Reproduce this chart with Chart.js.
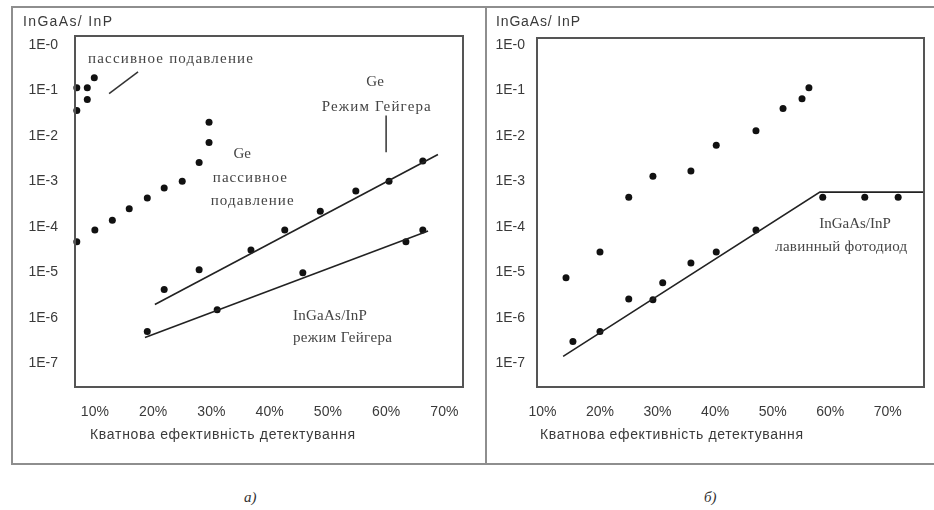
<!DOCTYPE html>
<html>
<head>
<meta charset="utf-8">
<script src="https://cdn.jsdelivr.net/npm/chart.js@4"></script>
<style>
  body { margin: 0; background: #fff; width: 934px; height: 510px; position: relative; overflow: hidden; }
  .rule { position: absolute; background: #8e8e8e; }
  canvas { position: absolute; }
  .cap { position: absolute; font: italic 15px "Liberation Serif", serif; color: #333; }
</style>
</head>
<body>
<div class="rule" style="left:11px;top:6px;width:923px;height:2px"></div>
<div class="rule" style="left:11px;top:6px;width:2px;height:459px"></div>
<div class="rule" style="left:485px;top:6px;width:2px;height:459px"></div>
<div class="rule" style="left:11px;top:463px;width:923px;height:2px"></div>

<canvas id="chartA" width="472" height="455" style="left:13px;top:8px"></canvas>
<canvas id="chartB" width="447" height="455" style="left:487px;top:8px"></canvas>

<div class="cap" style="left:244px;top:489px">а)</div>
<div class="cap" style="left:704px;top:489px">б)</div>

<script>
// axes
const yTickValues = [1e-7, 1e-6, 1e-5, 1e-4, 1e-3, 1e-2, 1e-1, 1];
const yTickLabels = ['1E-7', '1E-6', '1E-5', '1E-4', '1E-3', '1E-2', '1E-1', '1E-0'];
const xTickValues = [10, 20, 30, 40, 50, 60, 70];
const xTickLabels = ['10%', '20%', '30%', '40%', '50%', '60%', '70%'];

// panel а) - quantum efficiency (%) vs dark count probability
const ingaasPassiveQE   = [6.9, 8.7, 8.7, 9.9, 6.9];
const ingaasPassiveRate = [0.115, 0.115, 0.063, 0.19, 0.036];

const gePassiveQE   = [6.9, 10.0, 13.0, 15.9, 19.0, 21.9, 25.0, 27.9, 29.6, 29.6];
const gePassiveRate = [4.7e-5, 8.5e-5, 1.4e-4, 2.5e-4, 4.3e-4, 7.1e-4, 1.0e-3, 2.6e-3, 7.2e-3, 2.0e-2];

const geGeigerQE   = [21.9, 27.9, 36.8, 42.6, 48.7, 54.8, 60.5, 66.3];
const geGeigerRate = [4.2e-6, 1.14e-5, 3.1e-5, 8.5e-5, 2.2e-4, 6.1e-4, 1.0e-3, 2.8e-3];
const geGeigerFitQE   = [20.3, 68.9];
const geGeigerFitRate = [1.95e-6, 3.9e-3];

const ingaasGeigerQE   = [19.0, 31.0, 45.7, 63.4, 66.3];
const ingaasGeigerRate = [5.0e-7, 1.5e-6, 9.8e-6, 4.7e-5, 8.5e-5];
const ingaasGeigerFitQE   = [18.6, 67.2];
const ingaasGeigerFitRate = [3.7e-7, 8.1e-5];

// panel б)
const upperQE   = [14.1, 20.0, 25.0, 29.2, 35.8, 40.2, 47.1, 51.8, 55.1, 56.3];
const upperRate = [7.6e-6, 2.8e-5, 4.5e-4, 1.3e-3, 1.7e-3, 6.2e-3, 1.3e-2, 4.0e-2, 6.6e-2, 0.115];

const apdQE   = [15.3, 20.0, 25.0, 29.2, 30.9, 35.8, 40.2, 47.1, 58.7, 66.0, 71.8];
const apdRate = [3.0e-7, 5.0e-7, 2.6e-6, 2.5e-6, 5.9e-6, 1.6e-5, 2.8e-5, 8.5e-5, 4.5e-4, 4.5e-4, 4.5e-4];
const apdFitQE   = [13.6, 58.2, 76.3];
const apdFitRate = [1.42e-7, 5.8e-4, 5.8e-4];

const pts = (xs, ys) => xs.map((x, i) => ({ x, y: ys[i] }));

function dots(xs, ys) {
    return {
        data: pts(xs, ys),
        showLine: false,
        pointRadius: 3.5,
        pointBackgroundColor: '#111',
        pointBorderWidth: 0,
        clip: false
    };
}

function fitLine(xs, ys) {
    return {
        data: pts(xs, ys),
        showLine: true,
        pointRadius: 0,
        borderColor: '#222',
        borderWidth: 1.6
    };
}

// text drawn with spacing stretched to a given width
function spaced(ctx, text, x, y, width, align) {
    ctx.letterSpacing = '0px';
    const w0 = ctx.measureText(text).width;
    const extra = width ? (width - w0) / Math.max(text.length - 1, 1) : 0;
    ctx.letterSpacing = extra + 'px';
    const w = width || w0;
    const left = align === 'center' ? x - w / 2 : x;
    ctx.textAlign = 'left';
    ctx.textBaseline = 'middle';
    ctx.fillText(text, left, y);
    ctx.letterSpacing = '0px';
}

const panelText = {
    id: 'panelText',
    afterDatasetsDraw(chart, args, opts) {
        const { ctx, chartArea: a, scales: { x, y } } = chart;
        ctx.save();
        ctx.strokeStyle = '#555';
        ctx.lineWidth = 2;
        ctx.strokeRect(a.left, a.top, a.right - a.left, a.bottom - a.top);

        ctx.strokeStyle = '#333';
        ctx.lineWidth = 1.5;
        opts.leaders.forEach(l => {
            ctx.beginPath();
            ctx.moveTo(x.getPixelForValue(l[0]), y.getPixelForValue(l[1]));
            ctx.lineTo(x.getPixelForValue(l[2]), y.getPixelForValue(l[3]));
            ctx.stroke();
        });

        ctx.fillStyle = '#444';
        ctx.font = '15px "Liberation Serif", serif';
        opts.notes.forEach(n => {
            spaced(ctx, n.text, x.getPixelForValue(n.x), y.getPixelForValue(n.y), n.w, n.align);
        });

        ctx.fillStyle = '#3a3a3a';
        ctx.font = '14px "Liberation Sans", sans-serif';
        spaced(ctx, 'InGaAs/ InP', opts.yTitle[0], opts.yTitle[1], opts.yTitle[2], 'left');
        spaced(ctx, 'Кватнова ефективність детектування', a.left + opts.xTitle[0], opts.xTitle[1], opts.xTitle[2], 'left');
        ctx.restore();
    }
};

function makeChart(id, datasets, box, text) {
    const tickFont = { family: '"Liberation Sans", sans-serif', size: 14 };
    return new Chart(document.getElementById(id), {
        type: 'scatter',
        data: { datasets },
        options: {
            responsive: false,
            animation: false,
            events: [],
            layout: { padding: { left: 0, top: box.top, right: box.right, bottom: 0 } },
            plugins: {
                legend: { display: false },
                tooltip: { enabled: false },
                panelText: text
            },
            scales: {
                x: {
                    type: 'linear',
                    min: box.xMin,
                    max: box.xMax,
                    grid: { display: false, drawTicks: false },
                    border: { display: false },
                    afterBuildTicks: s => { s.ticks = xTickValues.map(v => ({ value: v })); },
                    afterFit: s => { s.height = box.xHeight; },
                    ticks: {
                        autoSkip: false,
                        maxRotation: 0,
                        padding: 17,
                        color: '#3a3a3a',
                        font: tickFont,
                        callback: (v, i) => xTickLabels[i]
                    }
                },
                y: {
                    type: 'logarithmic',
                    min: Math.pow(10, box.yMinExp),
                    max: Math.pow(10, box.yMaxExp),
                    grid: { display: false, drawTicks: false },
                    border: { display: false },
                    afterBuildTicks: s => { s.ticks = yTickValues.map(v => ({ value: v })); },
                    afterFit: s => { s.width = box.yWidth; },
                    ticks: {
                        padding: box.yPad,
                        color: '#3a3a3a',
                        font: tickFont,
                        callback: (v, i) => yTickLabels[i]
                    }
                }
            }
        },
        plugins: [panelText]
    });
}

makeChart('chartA', [
    dots(ingaasPassiveQE, ingaasPassiveRate),
    dots(gePassiveQE, gePassiveRate),
    fitLine(geGeigerFitQE, geGeigerFitRate),
    dots(geGeigerQE, geGeigerRate),
    fitLine(ingaasGeigerFitQE, ingaasGeigerFitRate),
    dots(ingaasGeigerQE, ingaasGeigerRate)
], {
    top: 28, right: 22, xHeight: 76, yWidth: 62, yPad: 17,
    xMin: 6.59, xMax: 73.2, yMinExp: -7.481, yMaxExp: 0.197
}, {
    yTitle: [10, 14, 89],
    xTitle: [15, 427, 265],
    leaders: [[12.44, 0.0848, 17.41, 0.257], [60.0, 0.028, 60.0, 0.00434]],
    notes: [
        { text: 'пассивное подавление', x: 8.82, y: 0.494, w: 165, align: 'left' },
        { text: 'Ge', x: 58.1, y: 0.155, w: 0, align: 'center' },
        { text: 'Режим Гейгера', x: 58.3, y: 0.044, w: 109, align: 'center' },
        { text: 'Ge', x: 35.3, y: 3.92e-3, w: 0, align: 'center' },
        { text: 'пассивное', x: 36.6, y: 1.17e-3, w: 74, align: 'center' },
        { text: 'подавление', x: 37.0, y: 3.68e-4, w: 83, align: 'center' },
        { text: 'InGaAs/InP', x: 44.0, y: 1.07e-6, w: 74, align: 'left' },
        { text: 'режим Гейгера', x: 44.0, y: 3.52e-7, w: 99, align: 'left' }
    ]
});

makeChart('chartB', [
    dots(upperQE, upperRate),
    fitLine(apdFitQE, apdFitRate),
    dots(apdQE, apdRate)
], {
    top: 30, right: 10, xHeight: 76, yWidth: 50, yPad: 12,
    xMin: 9.06, xMax: 76.29, yMinExp: -7.481, yMaxExp: 0.153
}, {
    yTitle: [9, 14, 84],
    xTitle: [3, 427, 263],
    leaders: [],
    notes: [
        { text: 'InGaAs/InP', x: 64.3, y: 1.16e-4, w: 0, align: 'center' },
        { text: 'лавинный фотодиод', x: 61.9, y: 3.62e-5, w: 132, align: 'center' }
    ]
});
</script>
</body>
</html>
